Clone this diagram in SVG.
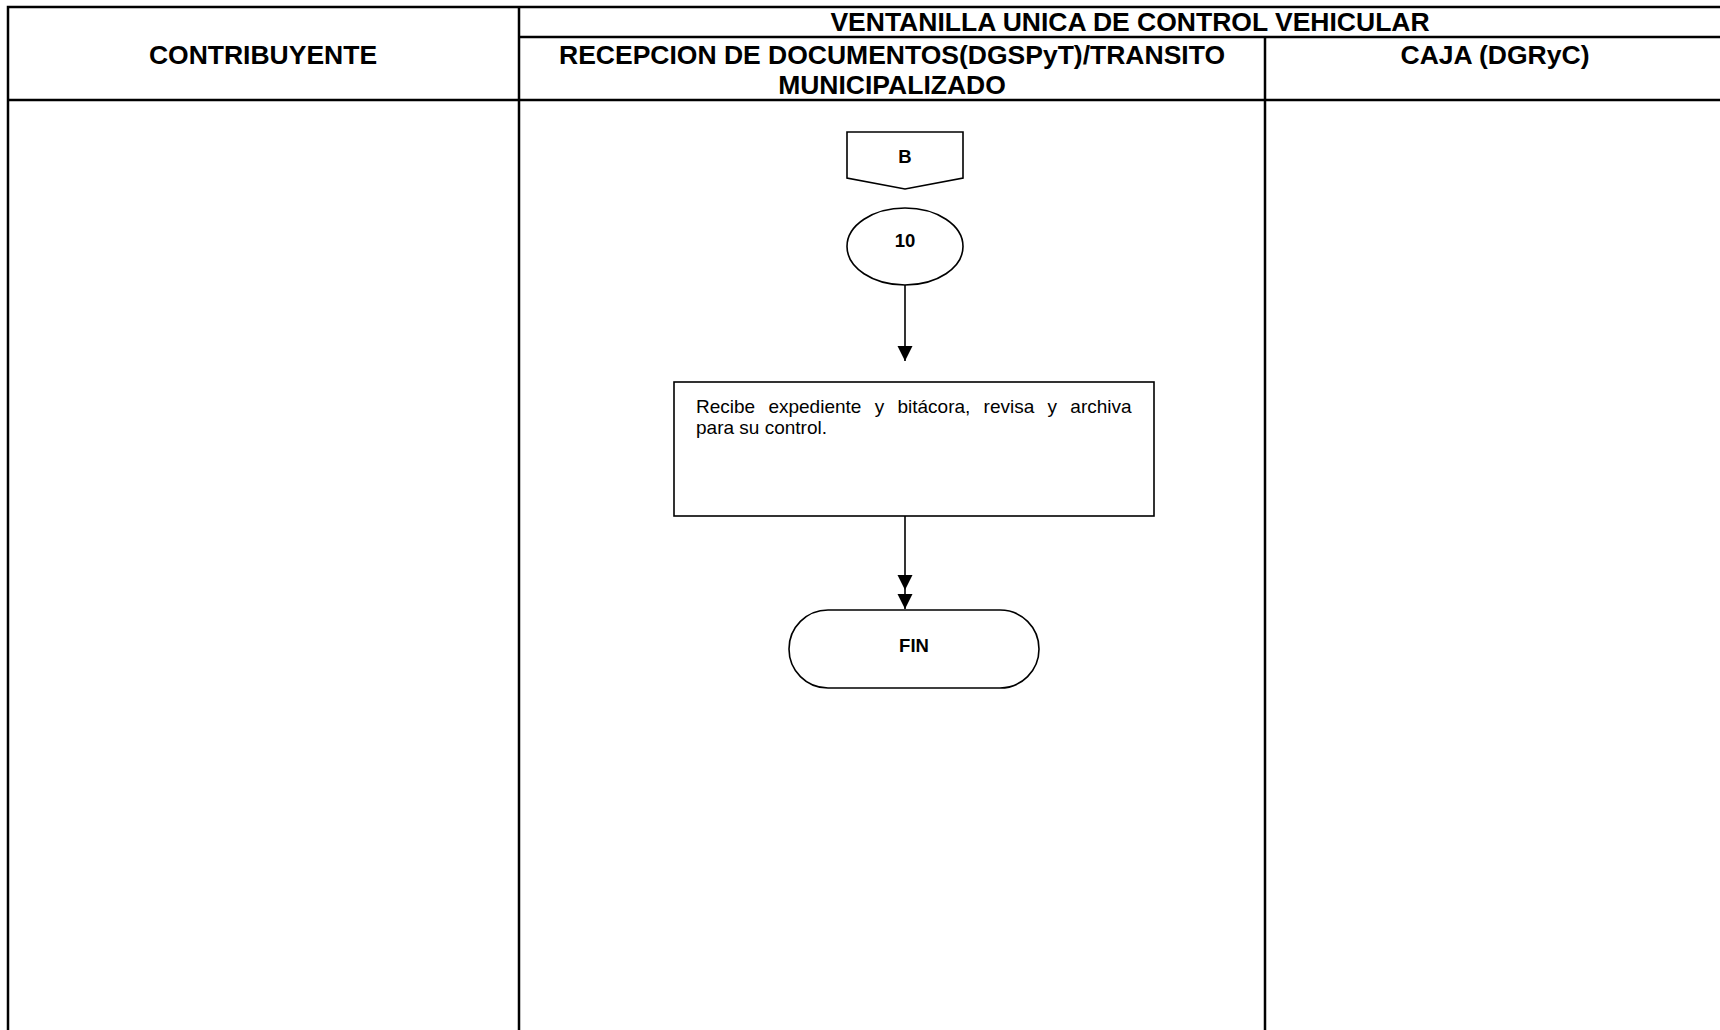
<svg xmlns="http://www.w3.org/2000/svg" width="1720" height="1030" viewBox="0 0 1720 1030">
<style>
.hdr{font-family:"Liberation Sans",Arial,sans-serif;font-weight:bold;font-size:26.5px;fill:#000;text-anchor:middle}
.lbl{font-family:"Liberation Sans",Arial,sans-serif;font-weight:bold;font-size:18.5px;fill:#000;text-anchor:middle}
.txt{font-family:"Liberation Sans",Arial,sans-serif;font-size:19px;fill:#000}
.grid{stroke:#000;stroke-width:2.5;fill:none}
.shape{stroke:#000;stroke-width:1.6;fill:#fff}
.conn{stroke:#000;stroke-width:1.6;fill:none}
</style>
<defs>
<marker id="arr" markerWidth="16" markerHeight="16" refX="15" refY="8" orient="auto" markerUnits="userSpaceOnUse">
<path d="M0,0.5 L15,8 L0,15.5 Z" fill="#000"/>
</marker>
</defs>
<rect width="1720" height="1030" fill="#fff"/>
<g id="table">
<path class="grid" d="M8,1030 V7 H1722 M519,37 H1722 M8,100 H1722"/>
<path class="grid" stroke-width="2.2" d="M519,7 V1030 M1265,37 V1030"/>
<text class="hdr" x="263" y="64">CONTRIBUYENTE</text>
<text class="hdr" x="1130" y="31" font-size="26">VENTANILLA UNICA DE CONTROL VEHICULAR</text>
<text class="hdr" x="892" y="64" font-size="27">RECEPCION DE DOCUMENTOS(DGSPyT)/TRANSITO</text>
<text class="hdr" x="892" y="94" font-size="27">MUNICIPALIZADO</text>
<text class="hdr" x="1495" y="64">CAJA (DGRyC)</text>
</g>
<g id="offpage-B">
<path class="shape" d="M847,132 H963 V178 L905,189 L847,178 Z"/>
<text class="lbl" x="905" y="163">B</text>
</g>
<g id="node-10">
<ellipse class="shape" cx="905" cy="246.5" rx="58" ry="38.5"/>
<text class="lbl" x="905" y="247">10</text>
</g>
<g id="task">
<rect class="shape" x="674" y="382" width="480" height="134"/>
<text class="txt" x="696" y="413" word-spacing="8">Recibe expediente y bitácora, revisa y archiva</text>
<text class="txt" x="696" y="434">para su control.</text>
</g>
<g id="fin">
<rect class="shape" stroke-width="3" x="789" y="610" width="250" height="78" rx="39" ry="39"/>
<text class="lbl" x="914" y="652">FIN</text>
</g>
<g id="connectors">
<line class="conn" x1="905" y1="285" x2="905" y2="361" marker-end="url(#arr)"/>
<line class="conn" x1="905" y1="516" x2="905" y2="590" marker-end="url(#arr)"/>
<line class="conn" x1="905" y1="590" x2="905" y2="609" marker-end="url(#arr)"/>
</g>
</svg>
